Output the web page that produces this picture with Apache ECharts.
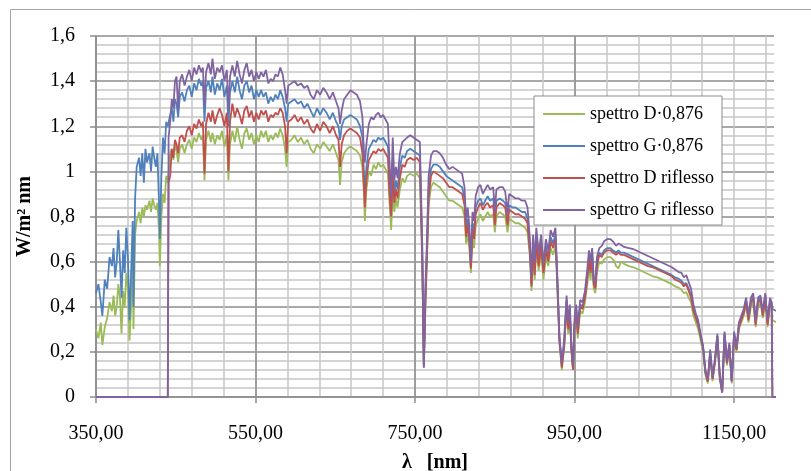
<!DOCTYPE html>
<html>
<head>
<meta charset="utf-8">
<script src="https://cdn.jsdelivr.net/npm/echarts@6/dist/echarts.min.js"></script>
<style>
html, body { margin: 0; padding: 0; background: #fff; }
#chart { width: 811px; height: 471px; }
</style>
</head>
<body>
<div id="chart"></div>
<script>
// lunghezze d'onda [nm]
var lambda = [
    350, 353, 356, 358, 361, 364, 367, 370, 372, 374, 376, 378, 380, 382, 384, 386, 388, 390, 392, 394,
    396, 397, 399, 401, 404, 406, 408, 410, 412, 414, 417, 419, 421, 423, 425, 427, 429, 430, 432, 434,
    436, 438, 440,
    441, 443, 445, 447, 449, 451, 453, 455, 458, 461, 464, 467, 470, 473, 476, 479, 482, 484, 486, 488,
    491, 494, 496, 499, 502, 505, 508, 511, 514, 516, 518, 521, 524, 527, 530, 533, 536, 539, 542, 545,
    548, 551, 554, 557,
    560, 563, 566, 569, 572, 575, 578, 581, 584, 587, 589, 591, 595, 599, 603, 607, 611, 615, 619, 623,
    627, 631, 635, 639, 643, 647, 651, 654, 656, 658, 661, 665, 669, 673, 677, 681, 684, 686, 687, 689,
    692, 695, 698, 701, 704, 707, 710, 713, 716, 718, 720, 722, 724, 726, 728, 731, 734, 737, 740, 744,
    748, 752, 756, 759, 761, 763, 765, 767, 770,
    773, 777, 781, 785, 789, 793, 797, 801, 805, 809, 812, 814, 816, 818, 820, 822, 824, 826, 829, 832,
    835, 838, 841, 844, 848, 850, 852, 856, 860, 863, 866, 868, 872, 876, 880, 884, 888, 891, 894, 896,
    898, 900, 902, 905, 908, 911, 914, 917, 920, 923, 926, 928, 931, 934, 937, 940, 942, 944, 946, 948,
    950, 952, 954, 957, 960, 963, 966, 968, 970, 972, 974, 976, 978, 981, 984, 987, 991, 995, 998, 1000,
    1002, 1005, 1008,
    1012, 1018, 1024, 1030, 1036, 1042, 1048, 1054, 1060, 1066, 1072, 1076, 1080, 1084, 1087, 1090, 1093, 1096, 1099, 1102,
    1105, 1108, 1111, 1114, 1117, 1120, 1123, 1126, 1129, 1132, 1135, 1138, 1141, 1144, 1147, 1150, 1153, 1156, 1159, 1162,
    1165, 1168, 1171, 1174, 1177, 1180, 1183, 1186, 1189, 1192, 1195, 1197, 1198, 1204
];

// spettro D·0,876
var spettroDnorm = [
    .30, .26, .33, .23, .31, .35, .42, .38, .45, .36, .40, .50, .44, .28, .47, .40, .55, .48, .25, .40,
    .58, .30, .72, .78, .82, .77, .84, .80, .85, .83, .87, .82, .88, .85, .83, .86, .74, .58, .80, .90,
    .86, .98, .95,
    1.00, 1.08, 1.10, 1.05, 1.12, 1.09, 1.04, 1.10, 1.12, 1.08, 1.12, 1.14, 1.10, 1.15, 1.13, 1.17, 1.14, 1.16, 0.96, 1.14,
    1.18, 1.13, 1.17, 1.12, 1.16, 1.14, 1.18, 1.11, 1.16, 0.96, 1.12, 1.18, 1.13, 1.20, 1.14, 1.10, 1.17, 1.19, 1.14, 1.17,
    1.12, 1.16, 1.13, 1.18,
    1.15, 1.18, 1.13, 1.16, 1.14, 1.17, 1.15, 1.19, 1.16, 1.10, 1.02, 1.13, 1.14, 1.16, 1.13, 1.15, 1.12, 1.14, 1.10, 1.08,
    1.12, 1.10, 1.13, 1.11, 1.09, 1.12, 1.08, 1.05, 0.94, 1.04, 1.08, 1.10, 1.11, 1.10, 1.09, 1.07, 1.02, 0.90, 0.78, 0.92,
    1.00, 0.98, 1.03, 1.01, 1.04, 1.02, 1.03, 1.01, 0.99, 0.86, 0.74, 0.90, 0.82, 0.88, 0.84, 0.92, 0.97, 0.95, 0.98, 0.99,
    0.98, 0.99, 0.97, 0.60, 0.13, 0.40, 0.62, 0.85, 0.93,
    0.95, 0.94, 0.93, 0.91, 0.89, 0.87, 0.87, 0.86, 0.85, 0.84, 0.80, 0.68, 0.72, 0.66, 0.55, 0.70, 0.66, 0.76, 0.79, 0.81,
    0.78, 0.80, 0.82, 0.80, 0.81, 0.73, 0.80, 0.82, 0.81, 0.80, 0.73, 0.79, 0.78, 0.77, 0.77, 0.76, 0.75, 0.73, 0.62, 0.47,
    0.63, 0.52, 0.66, 0.56, 0.64, 0.52, 0.62, 0.58, 0.66, 0.63, 0.67, 0.52, 0.24, 0.12, 0.22, 0.40, 0.28, 0.36, 0.20, 0.12,
    0.30, 0.36, 0.26, 0.38, 0.37, 0.42, 0.50, 0.58, 0.52, 0.60, 0.48, 0.46, 0.55, 0.60, 0.59, 0.61, 0.62, 0.62, 0.61, 0.60,
    0.58, 0.57, 0.60,
    0.59, 0.58, 0.575, 0.565, 0.555, 0.545, 0.535, 0.53, 0.52, 0.51, 0.50, 0.49, 0.485, 0.475, 0.46, 0.465, 0.44, 0.42, 0.36, 0.33,
    0.30, 0.25, 0.20, 0.10, 0.06, 0.18, 0.07, 0.15, 0.26, 0.08, 0.02, 0.27, 0.14, 0.22, 0.06, 0.27, 0.20, 0.30, 0.33, 0.36,
    0.41, 0.33, 0.40, 0.42, 0.31, 0.40, 0.42, 0.35, 0.42, 0.31, 0.41, 0.40, 0.34, 0.33
];

// spettro G·0,876
var spettroGnorm = [
    .46, .50, .42, .36, .52, .48, .62, .58, .66, .53, .60, .74, .60, .44, .65, .55, .75, .62, .34, .55,
    .78, .40, .88, 1.02, 1.06, .98, 1.08, .95, 1.10, 1.04, 1.08, 1.00, 1.11, 1.06, 1.02, 1.08, .86, .70, .98, 1.15,
    1.08, 1.22, 1.20,
    1.20, 1.25, 1.28, 1.22, 1.32, 1.30, 1.24, 1.33, 1.35, 1.31, 1.36, 1.38, 1.33, 1.39, 1.36, 1.41, 1.38, 1.40, 1.22, 1.37,
    1.40, 1.35, 1.42, 1.34, 1.39, 1.36, 1.41, 1.33, 1.38, 1.20, 1.35, 1.40, 1.35, 1.42, 1.36, 1.32, 1.38, 1.40, 1.35, 1.38,
    1.32, 1.36, 1.33, 1.36,
    1.33, 1.35, 1.30, 1.33, 1.31, 1.34, 1.32, 1.36, 1.33, 1.28, 1.22, 1.30, 1.31, 1.32, 1.30, 1.31, 1.28, 1.30, 1.27, 1.24,
    1.28, 1.25, 1.28, 1.26, 1.23, 1.26, 1.22, 1.20, 1.14, 1.20, 1.23, 1.24, 1.25, 1.24, 1.23, 1.20, 1.15, 0.98, 0.90, 1.02,
    1.10, 1.12, 1.14, 1.13, 1.15, 1.14, 1.15, 1.13, 1.11, 0.95, 0.82, 1.05, 0.90, 0.96, 0.92, 1.02, 1.07, 1.06, 1.09, 1.10,
    1.09, 1.08, 1.07, 0.65, 0.14, 0.45, 0.66, 0.92, 1.01,
    1.03, 1.03, 1.02, 1.00, 0.98, 0.97, 0.96, 0.95, 0.94, 0.93, 0.88, 0.74, 0.79, 0.72, 0.58, 0.77, 0.73, 0.84, 0.87, 0.88,
    0.85, 0.87, 0.89, 0.87, 0.88, 0.79, 0.87, 0.88, 0.87, 0.86, 0.78, 0.85, 0.84, 0.84, 0.83, 0.82, 0.82, 0.79, 0.66, 0.50,
    0.68, 0.56, 0.71, 0.60, 0.69, 0.56, 0.67, 0.62, 0.71, 0.68, 0.72, 0.55, 0.26, 0.14, 0.24, 0.43, 0.31, 0.39, 0.22, 0.13,
    0.33, 0.39, 0.29, 0.41, 0.40, 0.45, 0.54, 0.62, 0.56, 0.64, 0.51, 0.49, 0.59, 0.64, 0.63, 0.65, 0.66, 0.66, 0.65, 0.65,
    0.64, 0.65, 0.64,
    0.64, 0.63, 0.62, 0.61, 0.60, 0.59, 0.58, 0.57, 0.56, 0.55, 0.54, 0.53, 0.525, 0.515, 0.50, 0.505, 0.48, 0.45, 0.39, 0.36,
    0.32, 0.27, 0.22, 0.11, 0.07, 0.20, 0.08, 0.16, 0.27, 0.09, 0.02, 0.28, 0.15, 0.23, 0.07, 0.28, 0.21, 0.32, 0.35, 0.38,
    0.43, 0.35, 0.42, 0.44, 0.33, 0.43, 0.44, 0.37, 0.45, 0.33, 0.43, 0.42, 0.39, 0.38
];

// spettro D riflesso
var spettroDrifl = [
    0, 0, 0, 0, 0, 0, 0, 0, 0, 0, 0, 0, 0, 0, 0, 0, 0, 0, 0, 0,
    0, 0, 0, 0, 0, 0, 0, 0, 0, 0, 0, 0, 0, 0, 0, 0, 0, 0, 0, 0,
    0, 0, 0,
    0.95, 0.98, 1.10, 1.06, 1.14, 1.12, 1.08, 1.15, 1.16, 1.13, 1.18, 1.20, 1.16, 1.21, 1.19, 1.23, 1.20, 1.22, 0.99, 1.21,
    1.26, 1.22, 1.27, 1.21, 1.25, 1.28, 1.25, 1.20, 1.26, 1.00, 1.22, 1.30, 1.24, 1.28, 1.25, 1.21, 1.27, 1.29, 1.24, 1.27,
    1.22, 1.26, 1.23, 1.27,
    1.25, 1.27, 1.22, 1.25, 1.24, 1.26, 1.25, 1.28, 1.26, 1.20, 1.08, 1.22, 1.23, 1.25, 1.22, 1.24, 1.21, 1.23, 1.19, 1.17,
    1.21, 1.18, 1.22, 1.20, 1.17, 1.20, 1.16, 1.14, 1.02, 1.12, 1.16, 1.18, 1.19, 1.18, 1.17, 1.15, 1.08, 0.92, 0.84, 0.96,
    1.05, 1.07, 1.09, 1.08, 1.10, 1.09, 1.10, 1.08, 1.06, 0.90, 0.80, 0.98, 0.86, 0.92, 0.88, 0.97, 1.03, 1.02, 1.05, 1.06,
    1.05, 1.06, 1.04, 0.62, 0.14, 0.42, 0.64, 0.88, 0.98,
    1.00, 0.99, 0.98, 0.97, 0.95, 0.93, 0.93, 0.92, 0.91, 0.90, 0.85, 0.71, 0.76, 0.70, 0.57, 0.74, 0.70, 0.81, 0.84, 0.86,
    0.83, 0.85, 0.86, 0.84, 0.85, 0.76, 0.84, 0.86, 0.85, 0.84, 0.76, 0.83, 0.82, 0.81, 0.81, 0.80, 0.79, 0.77, 0.64, 0.49,
    0.66, 0.54, 0.69, 0.58, 0.67, 0.55, 0.65, 0.60, 0.69, 0.66, 0.70, 0.54, 0.25, 0.13, 0.23, 0.42, 0.30, 0.38, 0.21, 0.12,
    0.32, 0.38, 0.28, 0.40, 0.39, 0.44, 0.53, 0.61, 0.55, 0.62, 0.50, 0.48, 0.58, 0.63, 0.62, 0.64, 0.65, 0.65, 0.64, 0.64,
    0.63, 0.64, 0.63,
    0.63, 0.62, 0.61, 0.60, 0.59, 0.58, 0.575, 0.565, 0.555, 0.545, 0.535, 0.52, 0.515, 0.505, 0.49, 0.50, 0.47, 0.44, 0.38, 0.35,
    0.32, 0.27, 0.22, 0.11, 0.07, 0.19, 0.08, 0.16, 0.27, 0.09, 0.02, 0.28, 0.15, 0.23, 0.07, 0.28, 0.21, 0.31, 0.34, 0.37,
    0.42, 0.34, 0.42, 0.44, 0.32, 0.42, 0.43, 0.36, 0.44, 0.32, 0.42, 0.41, 0, 0
];

// spettro G riflesso
var spettroGrifl = [
    0, 0, 0, 0, 0, 0, 0, 0, 0, 0, 0, 0, 0, 0, 0, 0, 0, 0, 0, 0,
    0, 0, 0, 0, 0, 0, 0, 0, 0, 0, 0, 0, 0, 0, 0, 0, 0, 0, 0, 0,
    0, 0, 0,
    1.15, 1.22, 1.32, 1.28, 1.40, 1.42, 1.27, 1.40, 1.43, 1.38, 1.42, 1.45, 1.40, 1.46, 1.43, 1.47, 1.44, 1.46, 1.29, 1.44,
    1.48, 1.43, 1.50, 1.41, 1.46, 1.44, 1.47, 1.40, 1.45, 1.27, 1.42, 1.47, 1.42, 1.49, 1.43, 1.39, 1.45, 1.48, 1.42, 1.45,
    1.40, 1.44, 1.41, 1.44,
    1.42, 1.45, 1.39, 1.41, 1.40, 1.43, 1.42, 1.46, 1.43, 1.36, 1.30, 1.38, 1.39, 1.40, 1.38, 1.39, 1.37, 1.38, 1.34, 1.32,
    1.36, 1.34, 1.37, 1.35, 1.32, 1.35, 1.31, 1.28, 1.21, 1.27, 1.32, 1.34, 1.36, 1.35, 1.34, 1.31, 1.24, 1.08, 1.04, 1.12,
    1.21, 1.24, 1.23, 1.25, 1.26, 1.24, 1.25, 1.23, 1.21, 1.04, 0.89, 1.15, 0.96, 1.02, 0.97, 1.08, 1.13, 1.14, 1.15, 1.16,
    1.15, 1.14, 1.13, 0.68, 0.13, 0.50, 0.70, 0.98, 1.07,
    1.09, 1.09, 1.08, 1.06, 1.03, 1.01, 1.02, 1.01, 1.00, 0.99, 0.93, 0.78, 0.84, 0.76, 0.60, 0.82, 0.78, 0.89, 0.93, 0.94,
    0.90, 0.92, 0.94, 0.92, 0.93, 0.82, 0.92, 0.93, 0.93, 0.91, 0.82, 0.90, 0.89, 0.88, 0.88, 0.87, 0.87, 0.84, 0.70, 0.53,
    0.72, 0.60, 0.75, 0.64, 0.72, 0.59, 0.70, 0.65, 0.74, 0.71, 0.75, 0.57, 0.27, 0.15, 0.26, 0.45, 0.33, 0.41, 0.23, 0.14,
    0.35, 0.41, 0.31, 0.43, 0.42, 0.47, 0.57, 0.65, 0.60, 0.66, 0.52, 0.51, 0.62, 0.66, 0.67, 0.69, 0.70, 0.70, 0.69, 0.68,
    0.67, 0.68, 0.675,
    0.665, 0.66, 0.655, 0.645, 0.635, 0.625, 0.615, 0.605, 0.595, 0.585, 0.575, 0.565, 0.555, 0.55, 0.53, 0.54, 0.51, 0.48, 0.41, 0.37,
    0.34, 0.28, 0.23, 0.12, 0.08, 0.21, 0.09, 0.17, 0.28, 0.10, 0.02, 0.29, 0.16, 0.24, 0.07, 0.29, 0.22, 0.33, 0.36, 0.39,
    0.44, 0.36, 0.44, 0.46, 0.34, 0.44, 0.45, 0.38, 0.46, 0.34, 0.44, 0.42, 0, 0
];

var xLabels = [350, 550, 750, 950, 1150];
var nomi = ['spettro D·0,876', 'spettro G·0,876', 'spettro D riflesso', 'spettro G riflesso'];
var colori = ['#9bbb59', '#4f81bd', '#c0504d', '#8064a2'];
var valori = [spettroDnorm, spettroGnorm, spettroDrifl, spettroGrifl];

var FONT = 'Liberation Serif';
var GRIGIO = '#8c8c8c';
var GRIGIO_CHIARO = '#c6c6c6';
var chart = echarts.init(document.getElementById('chart'));

function coppie(v) {
    return lambda.map(function (l, i) { return [l, v[i]]; });
}

var option = {
    animation: false,
    backgroundColor: '#fff',
    color: colori,
    graphic: [{
        type: 'rect',
        silent: true,
        z: -10,
        shape: { x: 10.5, y: 9.5, width: 900, height: 600 },
        style: { fill: 'none', stroke: '#a6a6a6', lineWidth: 1 }
    }],
    grid: { left: 96, right: 37, top: 36, bottom: 74, containLabel: false, outerBoundsMode: 'none' },
    legend: {
        orient: 'vertical',
        left: 534,
        top: 96,
        itemWidth: 42,
        itemHeight: 14,
        itemGap: 14,
        padding: [9, 8, 6, 9],
        icon: 'path://M0,0 L42,0 L42,2 L0,2 Z',
        backgroundColor: '#fff',
        borderColor: GRIGIO,
        borderWidth: 1,
        textStyle: { fontFamily: FONT, fontSize: 18, lineHeight: 16, color: '#000' },
        data: nomi
    },
    xAxis: [{
        // griglia secondaria ogni 40 nm
        type: 'value',
        min: 350,
        max: 1200,
        interval: 40,
        axisLine: { show: true, lineStyle: { color: GRIGIO, width: 1.5 } },
        axisTick: { show: false },
        axisLabel: { show: false },
        splitLine: { show: true, showMaxLine: false, lineStyle: { color: GRIGIO_CHIARO, width: 1.5 } }
    }, {
        // griglia principale ogni 200 nm, etichette
        type: 'value',
        position: 'bottom',
        min: 350,
        max: 1200,
        interval: 200,
        name: 'λ   [nm]',
        nameLocation: 'middle',
        nameGap: 66,
        nameTextStyle: { fontFamily: FONT, fontSize: 20, fontWeight: 'bold', color: '#000', verticalAlign: 'middle' },
        axisLine: { show: false },
        axisTick: { show: true, length: 6, customValues: xLabels, lineStyle: { color: GRIGIO, width: 1.5 } },
        axisLabel: {
            customValues: xLabels,
            margin: 27,
            fontFamily: FONT, fontSize: 20, color: '#000',
            formatter: function (v) { return v.toFixed(2).replace('.', ','); }
        },
        splitLine: { show: true, showMaxLine: false, lineStyle: { color: GRIGIO, width: 1.5 } }
    }],
    yAxis: {
        type: 'value',
        min: 0,
        max: 1.6,
        interval: 0.2,
        name: 'W/m² nm',
        nameLocation: 'middle',
        nameGap: 71,
        nameTextStyle: { fontFamily: FONT, fontSize: 20, fontWeight: 'bold', color: '#000', verticalAlign: 'middle' },
        axisLine: { show: true, lineStyle: { color: GRIGIO, width: 1.5 } },
        axisTick: { show: true, length: 6, lineStyle: { color: GRIGIO, width: 1.5 } },
        axisLabel: {
            margin: 21,
            fontFamily: FONT, fontSize: 20, color: '#000',
            formatter: function (v) { return String(Math.round(v * 10) / 10).replace('.', ','); }
        },
        splitLine: { show: true, lineStyle: { color: GRIGIO, width: 1.5 } },
        minorTick: { show: false, splitNumber: 5 },
        minorSplitLine: { show: true, lineStyle: { color: GRIGIO_CHIARO, width: 1.5 } }
    },
    series: valori.map(function (v, i) {
        return {
            name: nomi[i],
            type: 'line',
            xAxisIndex: 0,
            data: coppie(v),
            symbol: 'none',
            clip: false,
            lineStyle: { color: colori[i], width: 1.8 }
        };
    })
};

chart.setOption(option);
</script>
</body>
</html>
